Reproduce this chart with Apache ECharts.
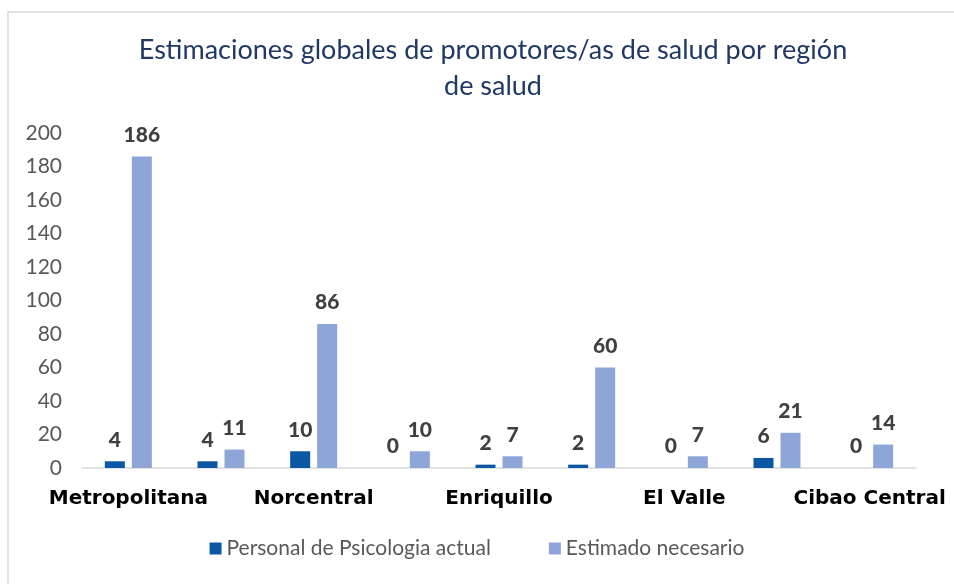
<!DOCTYPE html>
<html>
<head>
<meta charset="utf-8">
<script src="https://cdn.jsdelivr.net/npm/echarts@6/dist/echarts.min.js"></script>
<style>
  html, body { margin: 0; padding: 0; background: #fff; }
  #chart { width: 954px; height: 584px; }
</style>
</head>
<body>
<div id="chart"></div>
<script>
// regiones de salud (las etiquetas se muestran una sí, una no)
var regiones = ['Metropolitana', 'Valdesia', 'Norcentral', 'Nordeste', 'Enriquillo', 'Este', 'El Valle', 'Cibao Occidental', 'Cibao Central'];
var personalActual = [4, 4, 10, 0, 2, 2, 0, 6, 0];
var estimadoNecesario = [186, 11, 86, 10, 7, 60, 7, 21, 14];
var yTicks = { min: 0, max: 200, interval: 20 };

var fontFam = 'Lato, "Open Sans", sans-serif';
var chart = echarts.init(document.getElementById('chart'));

var labelStyle = {
  show: true,
  position: 'top',
  distance: 11,
  fontFamily: fontFam,
  fontWeight: 900,
  fontSize: 21,
  color: '#404040'
};

var option = {
  animation: false,
  graphic: [{
    type: 'rect',
    shape: { x: 8, y: 12, width: 980, height: 620 },
    style: { fill: 'none', stroke: '#d9d9d9', lineWidth: 1.5 },
    silent: true
  }],
  title: {
    text: 'Estimaciones globales de promotores/as de salud por región\nde salud',
    left: 488,
    textAlign: 'center',
    top: 27,
    textStyle: {
      fontFamily: fontFam,
      fontWeight: 'normal',
      fontSize: 27,
      lineHeight: 36,
      color: '#1f3864'
    }
  },
  legend: {
    data: ['Personal de Psicologia actual', 'Estimado necesario'],
    bottom: 20,
    left: 'center',
    icon: 'rect',
    itemWidth: 12,
    itemHeight: 12,
    itemGap: 58,
    itemStyle: { borderWidth: 0 },
    textStyle: { fontFamily: fontFam, fontSize: 21, color: '#595959' }
  },
  grid: {
    left: 82,
    right: 38,
    top: 133,
    bottom: 116
  },
  xAxis: {
    type: 'category',
    data: regiones,
    axisLine: { lineStyle: { color: '#d9d9d9', width: 1.5 } },
    axisTick: { show: false },
    axisLabel: {
      interval: 1,
      margin: 21,
      fontFamily: '"DejaVu Sans", sans-serif',
      fontWeight: 'bold',
      fontSize: 20,
      color: '#000'
    }
  },
  yAxis: {
    type: 'value',
    min: yTicks.min,
    max: yTicks.max,
    interval: yTicks.interval,
    axisLine: { show: false },
    axisTick: { show: false },
    splitLine: { show: false },
    axisLabel: {
      margin: 20,
      fontFamily: fontFam,
      fontSize: 21,
      color: '#595959'
    }
  },
  series: [{
    name: 'Personal de Psicologia actual',
    type: 'bar',
    data: personalActual,
    barWidth: 20,
    barGap: '35%',
    itemStyle: { color: '#0b57a4' },
    label: labelStyle
  }, {
    name: 'Estimado necesario',
    type: 'bar',
    data: estimadoNecesario,
    barWidth: 20,
    itemStyle: { color: '#8ea6d7' },
    label: labelStyle
  }]
};
chart.setOption(option);
</script>
</body>
</html>
